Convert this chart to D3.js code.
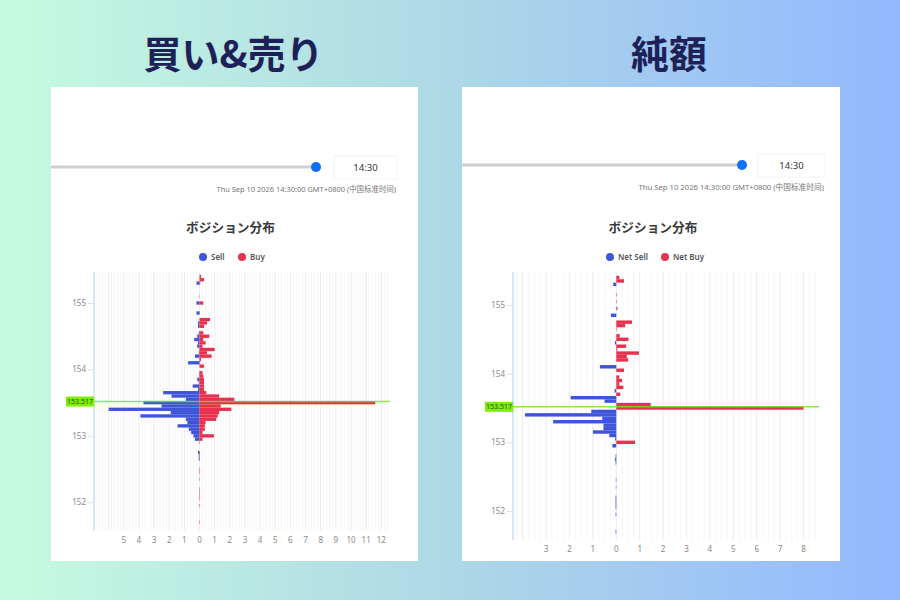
<!DOCTYPE html>
<html>
<head>
<meta charset="utf-8">
<script src="https://d3js.org/d3.v7.min.js"></script>
<style>
  body { margin: 0; }
  text { font-family: "Noto Sans", "Noto Sans CJK SC", sans-serif; }
</style>
</head>
<body>
<script>
// Position data
const pricesTotal = [155.40,155.35,155.30,155.10,155.00,154.85,154.75,154.70,154.65,154.55,154.50,154.45,154.40,154.35,154.30,154.25,154.20,154.15,154.10,154.05,153.95,153.90,153.85,153.80,153.75,153.70,153.65,153.60,153.55,153.50,153.45,153.40,153.35,153.30,153.25,153.20,153.15,153.10,153.05,153.00,152.95,152.90,152.75,152.70,152.65,152.50,152.45,152.35,152.20,152.15,152.10,152.05,151.95,151.70];
const sellValues = [0,0,.2,0,.2,.2,0,.1,.1,.05,.15,.35,.1,.15,.02,.05,.3,.02,.75,0,.02,.02,.15,.05,.45,.1,2.4,1.85,.9,3.7,2.5,6,1.9,3.9,.9,.8,1.45,.7,.55,.4,.3,0,.1,.05,.05,0,0,0,0,0,0,0,0,0];
const buyValues = [.1,.3,.05,.02,.25,.02,.7,.5,.3,.25,.65,.25,.4,.2,1,.5,.8,.1,.02,.3,.2,.25,.3,.3,.3,.3,.45,1.3,2.3,11.6,1.4,2.1,1.3,1.2,1.1,.4,.35,.35,.2,.95,.2,.03,.02,.02,.02,.03,.03,.03,.03,.03,.03,.03,.03,.03];

const pricesNet = [155.40,155.35,155.30,155.15,155.05,154.95,154.85,154.75,154.70,154.65,154.55,154.50,154.45,154.40,154.35,154.30,154.25,154.20,154.10,154.05,153.95,153.90,153.85,153.80,153.75,153.70,153.65,153.60,153.55,153.50,153.45,153.40,153.35,153.30,153.25,153.20,153.15,153.10,153.05,153.00,152.95,152.80,152.75,152.70,152.45,152.35,152.20,152.15,152.10,152.05,151.95,151.70];
const netSellValues = [0,0,.13,0,0,0,.23,0,0,0,0,0,.06,0,0,0,0,0,.7,0,0,0,0,0,.07,0,1.95,.5,0,0,1.07,3.9,.6,2.7,.55,.55,1,.3,.05,0,.17,.03,.05,.03,.02,.02,.03,.03,.03,.03,.03,.03];
const netBuyValues = [.13,.33,0,.02,.02,.05,0,.67,.38,.02,.15,.52,0,.42,.04,.97,.45,.5,0,.33,.13,.25,.13,.3,0,.17,0,0,1.47,8,0,0,0,0,0,0,0,0,0,.8,0,0,0,0,0,0,0,0,0,0,0,0];

const xTickLeft = [5,4,3,2,1,0,1,2,3,4,5,6,7,8,9,10,11,12];
const xTickRight = [3,2,1,0,1,2,3,4,5,6,7,8];
const priceTicks = [155,154,153,152];
const currentPrice = 153.517;

const SELL = '#3f55d9', BUY = '#e8304f', NAVY = '#1e2157';

const svg = d3.select('body').append('svg')
  .attr('width', 900)
  .attr('height', 600);

// Background gradient
const grad = svg.append('defs').append('linearGradient').attr('id', 'bg');
grad.append('stop').attr('offset', '0%').attr('stop-color', '#c6fbe0');
grad.append('stop').attr('offset', '50%').attr('stop-color', '#add8e6');
grad.append('stop').attr('offset', '100%').attr('stop-color', '#93b8ff');
svg.append('rect').attr('width', 900).attr('height', 600).attr('fill', 'url(#bg)');

function drawPanel(p) {
  const g = svg.append('g');

  g.append('text').attr('x', p.headX).attr('y', 68)
    .attr('text-anchor', 'middle')
    .attr('font-size', p.headSize)
    .attr('font-weight', 700)
    .attr('fill', NAVY)
    .style('font-family', '"Noto Sans CJK JP"')
    .text(p.head);

  g.append('rect')
    .attr('x', p.cardX).attr('y', 87)
    .attr('width', p.cardW).attr('height', 474)
    .attr('fill', '#fff');

  // Slider
  g.append('line')
    .attr('x1', p.cardX).attr('x2', p.knobX)
    .attr('y1', p.sliderY).attr('y2', p.sliderY)
    .attr('stroke', '#cfcfcf').attr('stroke-width', 3);
  g.append('circle').attr('cx', p.knobX).attr('cy', p.sliderY).attr('r', 5).attr('fill', '#0d6efd');
  g.append('rect')
    .attr('x', p.boxX).attr('y', p.sliderY - 11)
    .attr('width', p.boxW).attr('height', 23)
    .attr('fill', '#fff').attr('stroke', '#f2f2f2');
  g.append('text')
    .attr('x', p.boxX + p.boxW / 2).attr('y', p.sliderY + 4)
    .attr('text-anchor', 'middle')
    .attr('font-size', 9.5).attr('fill', '#333')
    .text('14:30');
  g.append('text')
    .attr('x', p.boxX + p.boxW - 1).attr('y', p.sliderY + 25)
    .attr('text-anchor', 'end')
    .attr('font-size', p.dateSize).attr('fill', '#777')
    .text('Thu Sep 10 2026 14:30:00 GMT+0800 (中国标准时间)');

  g.append('text')
    .attr('x', p.titleX).attr('y', 232)
    .attr('text-anchor', 'middle')
    .attr('font-size', 12.7).attr('font-weight', 700).attr('fill', '#3a3a3a')
    .style('font-family', '"Noto Sans CJK JP"')
    .text('ボジション分布');

  // Legend
  p.legend.forEach(l => {
    g.append('circle').attr('cx', l.x).attr('cy', 257).attr('r', 4).attr('fill', l.color);
    g.append('text').attr('x', l.x + 8).attr('y', 260)
      .attr('font-size', 8).attr('font-weight', 600).attr('fill', '#555')
      .text(l.label);
  });

  const x = d3.scaleLinear().domain([0, 1]).range([p.zeroX, p.zeroX + p.unit]);
  const y = d3.scaleLinear().domain([155, 152]).range([p.y155, p.y152]);

  // Grid: major at whole units, fainter minor lines between them
  const n = p.minorPerUnit;
  const minor = d3.range(Math.ceil(x.invert(p.plotL) * n), Math.floor(x.invert(p.plotR) * n) + 1).map(d => d / n);
  g.append('g').selectAll('line').data(minor).join('line')
    .attr('x1', d => x(d)).attr('x2', d => x(d))
    .attr('y1', 272).attr('y2', p.plotB)
    .attr('stroke', d => Number.isInteger(d) ? '#eeeeee' : '#f7f7f7')
    .attr('stroke-width', 1.2);

  // Price axis
  const yAxis = d3.axisLeft(y).tickValues(priceTicks).tickSize(6).tickPadding(2).tickFormat(d3.format('d'));
  const ya = g.append('g').attr('transform', `translate(${p.plotL},0)`).call(yAxis);
  ya.select('.domain').remove();
  ya.selectAll('.tick line').attr('stroke', '#e2e2e2');
  ya.selectAll('.tick text').attr('fill', '#888').attr('font-size', 8);
  g.append('line')
    .attr('x1', p.plotL).attr('x2', p.plotL)
    .attr('y1', 272).attr('y2', p.plotB)
    .attr('stroke', '#d5e6f8').attr('stroke-width', 2);

  // Bars, one row per price bin
  const barH = Math.abs(y(0) - y(0.05));
  const rows = p.prices.map((price, i) => ({ price, sell: p.sell[i], buy: p.buy[i] }));
  g.append('g').selectAll('rect').data(rows.filter(d => d.sell > 0)).join('rect')
    .attr('x', d => x(-d.sell))
    .attr('y', d => y(d.price) - barH / 2)
    .attr('width', d => x(0) - x(-d.sell))
    .attr('height', barH)
    .attr('fill', SELL);
  g.append('g').selectAll('rect').data(rows.filter(d => d.buy > 0)).join('rect')
    .attr('x', x(0))
    .attr('y', d => y(d.price) - barH / 2)
    .attr('width', d => x(d.buy) - x(0))
    .attr('height', barH)
    .attr('fill', BUY);

  // Current price marker
  g.append('line')
    .attr('x1', p.plotL).attr('x2', p.plotR + 2)
    .attr('y1', y(currentPrice)).attr('y2', y(currentPrice))
    .attr('stroke', '#6fe31e').attr('stroke-width', 1.5).attr('stroke-opacity', 0.8);
  g.append('rect')
    .attr('x', p.plotL - 28).attr('y', y(currentPrice) - 5)
    .attr('width', 28).attr('height', 10)
    .attr('fill', '#7cf000');
  g.append('text')
    .attr('x', p.plotL - 14).attr('y', y(currentPrice) + 2.5)
    .attr('text-anchor', 'middle')
    .attr('font-size', 7).attr('fill', '#2b4a10')
    .text(currentPrice);

  // Value labels, both sides are shown unsigned
  const signed = p.xTicks.map((d, i) => (i < p.xTicks.indexOf(0) ? -d : d));
  g.append('g').selectAll('text').data(signed).join('text')
    .attr('x', d => x(d))
    .attr('y', p.plotB + 12)
    .attr('text-anchor', 'middle')
    .attr('font-size', 8).attr('fill', '#888')
    .text(d => Math.abs(d));
}

drawPanel({
  head: '買い&売り', headX: 233.5, headSize: 38, dateSize: 7.45,
  cardX: 51, cardW: 367, sliderY: 167, knobX: 316, boxX: 334, boxW: 63, titleX: 230.5,
  legend: [{ x: 203, color: SELL, label: 'Sell' }, { x: 242, color: BUY, label: 'Buy' }],
  zeroX: 199.5, unit: 15.15, y155: 303, y152: 502.3, plotL: 94, plotR: 388, plotB: 531, minorPerUnit: 5,
  prices: pricesTotal, sell: sellValues, buy: buyValues, xTicks: xTickLeft
});

drawPanel({
  head: '純額', headX: 669, headSize: 38, dateSize: 7.7,
  cardX: 462, cardW: 378, sliderY: 165, knobX: 742, boxX: 758, boxW: 67, titleX: 653,
  legend: [{ x: 610, color: SELL, label: 'Net Sell' }, { x: 665, color: BUY, label: 'Net Buy' }],
  zeroX: 616.3, unit: 23.4, y155: 305, y152: 511, plotL: 513, plotR: 817, plotB: 540, minorPerUnit: 4,
  prices: pricesNet, sell: netSellValues, buy: netBuyValues, xTicks: xTickRight
});
</script>
</body>
</html>
